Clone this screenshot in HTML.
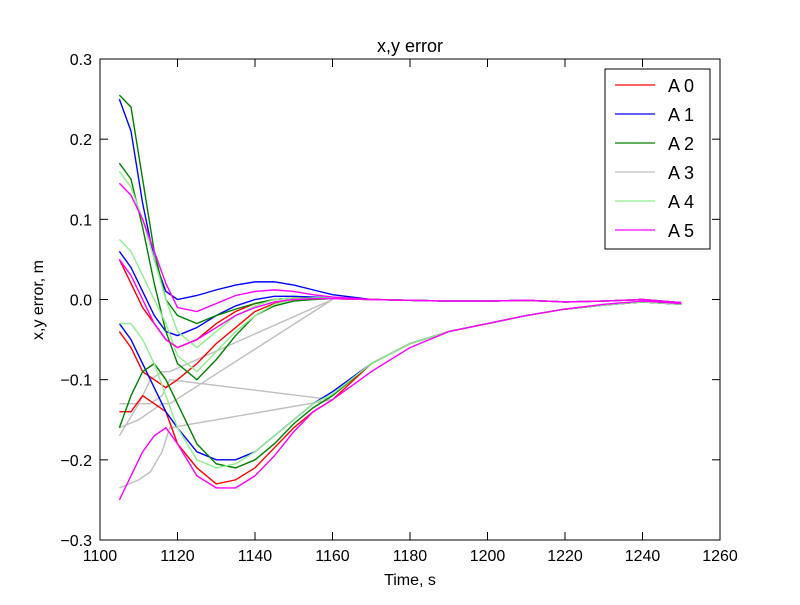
<!DOCTYPE html>
<html><head><meta charset="utf-8"><style>
body{margin:0;background:#fff}
svg text{font-family:"Liberation Sans","DejaVu Sans",sans-serif}
</style></head><body>
<svg id="chart" width="800" height="600" xmlns="http://www.w3.org/2000/svg">
<rect width="800" height="600" fill="#fff"/>
<g id="marks"></g>
<rect x="100" y="59" width="620" height="481" fill="none" stroke="#000" stroke-width="1"/>
<g id="axes"></g>
<text x="410" y="52" font-size="18" text-anchor="middle">x,y error</text>
<text x="410" y="585" font-size="16" text-anchor="middle">Time, s</text>
<text transform="translate(43,300) rotate(-90)" font-size="16" text-anchor="middle">x,y error, m</text>
<g id="legend"></g>
</svg>
<script>
const T=[1105,1108,1111,1114,1117,1120,1125,1130,1135,1140,1145,1150,1155,1160,1170,1180,1190,1200,1210,1220,1230,1240,1250];
const seriesNames=["A 0","A 1","A 2","A 3","A 4","A 5"];
const seriesColors=["#ff0000","#0000ff","#008000","#bfbfbf","#90ee90","#ff00ff"];
const tail0=[0,-0.001,-0.002,-0.002,-0.001,-0.003,-0.002,0,-0.004];
const tailL=[-0.08,-0.055,-0.04,-0.03,-0.02,-0.012,-0.007,-0.003,-0.006];
const a0=[[0.05,0.02,-0.01,-0.03,-0.05,-0.06,-0.05,-0.03,-0.015,-0.005,0,0.002,0.002,0.001].concat(tail0),
[-0.14,-0.14,-0.12,-0.13,-0.14,-0.18,-0.21,-0.23,-0.225,-0.21,-0.185,-0.16,-0.14,-0.125].concat(tailL),
[-0.04,-0.06,-0.09,-0.1,-0.11,-0.1,-0.08,-0.055,-0.035,-0.015,-0.005,0,0.002,0.002].concat(tail0)];
const a1=[[0.25,0.21,0.12,0.05,0.01,0,0.005,0.012,0.018,0.022,0.022,0.018,0.012,0.006].concat(tail0),
[-0.03,-0.05,-0.08,-0.11,-0.14,-0.16,-0.19,-0.2,-0.2,-0.19,-0.17,-0.15,-0.13,-0.115].concat(tailL),
[0.06,0.04,0.01,-0.02,-0.04,-0.045,-0.035,-0.02,-0.008,0,0.004,0.004,0.003,0.002].concat(tail0)];
const a2=[[0.255,0.24,0.15,0.06,0,-0.02,-0.03,-0.02,-0.012,-0.005,0,0.002,0.002,0.002].concat(tail0),
[-0.16,-0.12,-0.09,-0.08,-0.1,-0.13,-0.18,-0.205,-0.21,-0.2,-0.18,-0.155,-0.135,-0.12].concat(tailL),
[0.17,0.15,0.09,0.02,-0.04,-0.08,-0.1,-0.075,-0.045,-0.02,-0.008,-0.002,0,0.001].concat(tail0)];
const a3x=[1105,1110,1113,1116,1118,1160];
const a3=[[-0.235,-0.225,-0.215,-0.19,-0.16,-0.125],[-0.17,-0.13,-0.1,-0.09,-0.09,0.0],[-0.13,-0.13,-0.13,-0.12,-0.1,-0.125],[-0.16,-0.15,-0.14,-0.13,-0.13,0.0]];
const a4=[[0.16,0.14,0.1,0.05,0,-0.04,-0.06,-0.04,-0.02,-0.008,0,0.002,0.001,0.001].concat(tail0),
[-0.03,-0.03,-0.05,-0.08,-0.12,-0.16,-0.2,-0.21,-0.205,-0.19,-0.17,-0.15,-0.13,-0.118].concat(tailL),
[0.075,0.06,0.03,0,-0.03,-0.07,-0.09,-0.065,-0.04,-0.02,-0.006,0,0.002,0.002].concat(tail0)];
const a5=[[0.145,0.13,0.1,0.06,0.02,-0.01,-0.015,-0.005,0.005,0.01,0.012,0.01,0.006,0.003].concat(tail0),
[-0.25,-0.22,-0.19,-0.17,-0.16,-0.18,-0.22,-0.235,-0.235,-0.22,-0.195,-0.165,-0.14,-0.125,-0.09,-0.06,-0.04,-0.03,-0.02,-0.012,-0.006,-0.002,-0.005],
[0.05,0.03,0,-0.03,-0.05,-0.06,-0.05,-0.035,-0.02,-0.01,-0.003,0,0.001,0.001].concat(tail0)];
const xTicks=[1100,1120,1140,1160,1180,1200,1220,1240,1260];
const yTicks=[0.3,0.2,0.1,0,-0.1,-0.2,-0.3];
const NS="http://www.w3.org/2000/svg";
const X=v=>100+(v-1100)*620/160;
const Y=v=>299.5-v*481/0.6;
const marks=document.getElementById('marks');
function linePath(xs,ys){return xs.map((x,i)=>(i?"L":"M")+X(x)+","+Y(ys[i])).join(" ");}
function draw(d,color,name){const p=document.createElementNS(NS,'path');p.setAttribute('d',d);p.setAttribute('fill','none');p.setAttribute('stroke',color);p.setAttribute('stroke-width','1.4');


marks.appendChild(p);}
a3.forEach((ys,i)=>draw(linePath(a3x,ys),seriesColors[3],'a3-line-'+i));
[a0,a1,a2,a4,a5].forEach((s,k)=>{const idx=[0,1,2,4,5][k];s.forEach((ys,i)=>draw(linePath(T,ys),seriesColors[idx],'a'+idx+'-line-'+i));});
const axes=document.getElementById('axes');
function el(tag,attrs,txt){const e=document.createElementNS(NS,tag);for(const k in attrs)e.setAttribute(k,attrs[k]);if(txt!==undefined)e.textContent=txt;axes.appendChild(e);return e;}
xTicks.forEach(v=>{const x=X(v);
const t1=el('line',{x1:x,x2:x,y1:540,y2:532,stroke:'#000'});
el('line',{x1:x,x2:x,y1:59,y2:67,stroke:'#000'});
const l=el('text',{x:x,y:561,'font-size':16,'text-anchor':'middle'},String(v));});
yTicks.forEach(v=>{const y=Y(v);
el('line',{x1:100,x2:108,y1:y,y2:y,stroke:'#000'});el('line',{x1:720,x2:712,y1:y,y2:y,stroke:'#000'});
const s=(v<0?"\u2212":"")+Math.abs(v).toFixed(1);
const l=el('text',{x:92,y:y+6,'font-size':16,'text-anchor':'end'},s);});
const lg=document.getElementById('legend');
const box=document.createElementNS(NS,'rect');box.setAttribute('x',605);box.setAttribute('y',69);box.setAttribute('width',105);box.setAttribute('height',180);box.setAttribute('fill','#fff');box.setAttribute('stroke','#000');


lg.appendChild(box);
seriesNames.forEach((n,i)=>{const y=85+i*29;const g=document.createElementNS(NS,'g');


const ln=document.createElementNS(NS,'line');ln.setAttribute('x1',615);ln.setAttribute('x2',655);ln.setAttribute('y1',y);ln.setAttribute('y2',y);ln.setAttribute('stroke',seriesColors[i]);ln.setAttribute('stroke-width','1.2');g.appendChild(ln);
const t=document.createElementNS(NS,'text');t.setAttribute('x',668);t.setAttribute('y',y+7);t.setAttribute('font-size',18);t.textContent=n;g.appendChild(t);lg.appendChild(g);});
</script>
</body></html>
